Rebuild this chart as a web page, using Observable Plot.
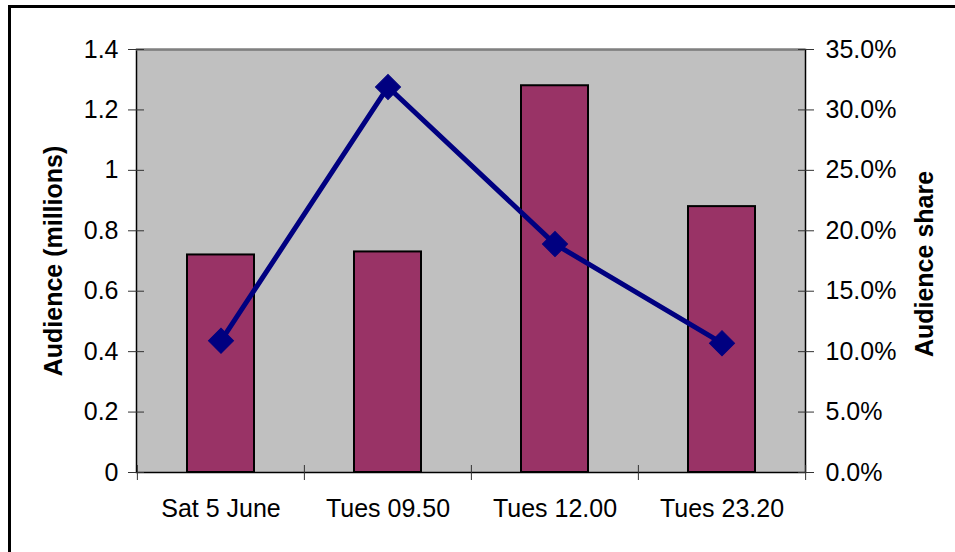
<!DOCTYPE html>
<html>
<head>
<meta charset="utf-8">
<script src="https://cdn.jsdelivr.net/npm/d3@7"></script>
<script src="https://cdn.jsdelivr.net/npm/@observablehq/plot@0.6"></script>
<style>
  html, body { margin: 0; padding: 0; background: white; }
  #wrap { position: relative; width: 955px; height: 552px; overflow: hidden; }
  #border { position: absolute; left: 8px; top: 5px; width: 960px; height: 560px; border-left: 3px solid black; border-top: 3px solid black; pointer-events: none; }
</style>
</head>
<body>
<div id="wrap"><div id="border"></div></div>
<script>
const categories = ["Sat 5 June", "Tues 09.50", "Tues 12.00", "Tues 23.20"];
const audience = [0.72, 0.73, 1.28, 0.88];       // millions
const share = [10.9, 31.9, 18.9, 10.7];           // percent
const leftTicks = [0, 0.2, 0.4, 0.6, 0.8, 1, 1.2, 1.4];
const rightTickLabels = ["0.0%", "5.0%", "10.0%", "15.0%", "20.0%", "25.0%", "30.0%", "35.0%"];

const leftMax = 1.4, rightMax = 35;
const rows = categories.map((c, i) => ({cat: c, audience: audience[i], share: share[i]}));

const W = 955, H = 552, mL = 136, mR = 150, mT = 49, mB = 80;
const step = (W - mL - mR) / categories.length;
const font = "Liberation Sans, Arial, Helvetica, sans-serif";
const FS = 25;

const plot = Plot.plot({
  width: W, height: H,
  marginLeft: mL, marginRight: mR, marginTop: mT, marginBottom: mB,
  style: {fontFamily: font, fontSize: FS + "px", background: "transparent", overflow: "visible"},
  x: {domain: categories, paddingInner: 0.6, paddingOuter: 0.3, align: 0.5, axis: null, label: null},
  y: {domain: [0, leftMax], axis: null, label: null},
  marks: [
    Plot.frame({fill: "#c0c0c0", stroke: "#000000", strokeWidth: 1.5}),
    Plot.ruleY([leftMax], {stroke: "#808080", strokeWidth: 2}),
    Plot.barY(rows, {x: "cat", y: "audience", fill: "#993366", stroke: "black", strokeWidth: 2}),
    Plot.line(rows, {x: "cat", y: d => d.share / rightMax * leftMax, stroke: "#000080", strokeWidth: 5}),
    Plot.dot(rows, {x: "cat", y: d => d.share / rightMax * leftMax, symbol: "square", rotate: 45, r: 10, fill: "#000080", stroke: "#000080", strokeWidth: 1}),
    // left axis: crossing ticks + labels
    Plot.axisY({anchor: "left", label: null, ticks: leftTicks, tickSize: 16, dx: 8, tickFormat: () => "", stroke: "#333"}),
    Plot.axisY({anchor: "left", label: null, ticks: leftTicks, tickSize: 0, tickPadding: 18, tickFormat: d => d3.format("")(d), fontSize: FS, fill: "black"}),
    // right axis
    Plot.axisY({anchor: "right", label: null, ticks: leftTicks, tickSize: 16, dx: -8, tickFormat: () => "", stroke: "#333"}),
    Plot.axisY({anchor: "right", label: null, ticks: leftTicks, tickSize: 0, tickPadding: 20, tickFormat: d => rightTickLabels[leftTicks.indexOf(d)], fontSize: FS, fill: "black"}),
    // x boundary ticks
    Plot.axisX({label: null, ticks: categories, tickSize: 15, dx: -step / 2, dy: -7, tickFormat: () => "", stroke: "#333"}),
    Plot.axisX({label: null, ticks: [categories[categories.length - 1]], tickSize: 15, dx: step / 2, dy: -7, tickFormat: () => "", stroke: "#333"}),
    // x labels
    Plot.axisX({label: null, ticks: categories, tickSize: 0, tickPadding: 27, fontSize: FS, fill: "black"}),
    // axis titles
    Plot.text(["Audience (millions)"], {frameAnchor: "left", textAnchor: "middle", dx: -83, rotate: -90, fontWeight: "bold", fontSize: FS, fill: "black"}),
    Plot.text(["Audience share"], {frameAnchor: "right", textAnchor: "middle", dx: 119, dy: 3, rotate: -90, fontWeight: "bold", fontSize: FS, fill: "black"})
  ]
});
document.getElementById("wrap").prepend(plot);
</script>
</body>
</html>
